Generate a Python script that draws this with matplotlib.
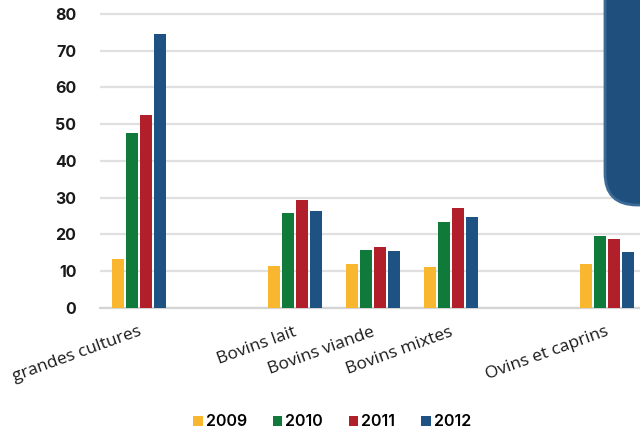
import numpy as np
import matplotlib.pyplot as plt
from matplotlib.patches import FancyBboxPatch
from matplotlib.transforms import ScaledTranslation, IdentityTransform

categories = ["grandes cultures", "", "Bovins lait", "Bovins viande",
              "Bovins mixtes", "", "Ovins et caprins"]
years = ["2009", "2010", "2011", "2012"]
v2009 = [13.3, np.nan, 11.4, 11.9, 11.1, np.nan, 11.9]
v2010 = [47.5, np.nan, 25.8, 15.9, 23.5, np.nan, 19.7]
v2011 = [52.4, np.nan, 29.4, 16.6, 27.1, np.nan, 18.8]
v2012 = [74.5, np.nan, 26.4, 15.6, 24.7, np.nan, 15.2]
colors = ["#f9b730", "#107a3b", "#b11f2b", "#1d5282"]

fig = plt.figure(figsize=(6.4, 4.33), dpi=100)
ax = fig.add_axes([100 / 640, 1 - 308 / 433, 546 / 640, 301.35 / 433])

x = np.arange(len(categories))
step = 0.18
width = 0.145
for i, (vals, col, yr) in enumerate(zip([v2009, v2010, v2011, v2012], colors, years)):
    ax.bar(x + (i - 1.5) * step, vals, width=width, color=col, label=yr, zorder=3)

ax.set_xlim(-0.5, len(categories) - 0.5)
ax.set_ylim(0, 82)
ax.set_yticks(range(0, 81, 10))
ax.yaxis.grid(True, color="#e0e0e0", linewidth=1.6, zorder=0)
ax.set_axisbelow(True)
for s in ["top", "right", "left"]:
    ax.spines[s].set_visible(False)
ax.spines["bottom"].set_color("#d4d4d4")
ax.spines["bottom"].set_linewidth(1.6)
ax.tick_params(axis="both", length=0)
ax.tick_params(axis="y", pad=17)
for lab in ax.get_yticklabels():
    lab.set_fontfamily("Inter")
    lab.set_fontweight("bold")
    lab.set_fontsize(11.5)
    lab.set_color("#1a1a1a")

ax.set_xticks(x)
ax.set_xticklabels(categories, rotation=20, ha="right", rotation_mode="anchor",
                   fontfamily="Open Sans", fontsize=12.5, color="#1a1a1a")
shift = ScaledTranslation(-1 / 72, -8 / 72, fig.dpi_scale_trans)
for lab in ax.get_xticklabels():
    lab.set_transform(lab.get_transform() + shift)

leg = fig.legend(loc="center", bbox_to_anchor=(332 / 640, 1 - 422 / 433), ncol=4,
                 frameon=False, handlelength=0.6, handleheight=0.6,
                 handletextpad=0.2, columnspacing=1.6,
                 prop={"family": "Inter", "weight": "semibold", "size": 11.5})

# info box in the top right corner
box = FancyBboxPatch((605, 433 - 205), 80, 260,
                     boxstyle="round,pad=0,rounding_size=32",
                     transform=IdentityTransform(), facecolor="#1f4f7d",
                     edgecolor="#3b6a97", linewidth=2, zorder=10)
fig.patches.append(box)

fig.savefig("out.png", dpi=100)
